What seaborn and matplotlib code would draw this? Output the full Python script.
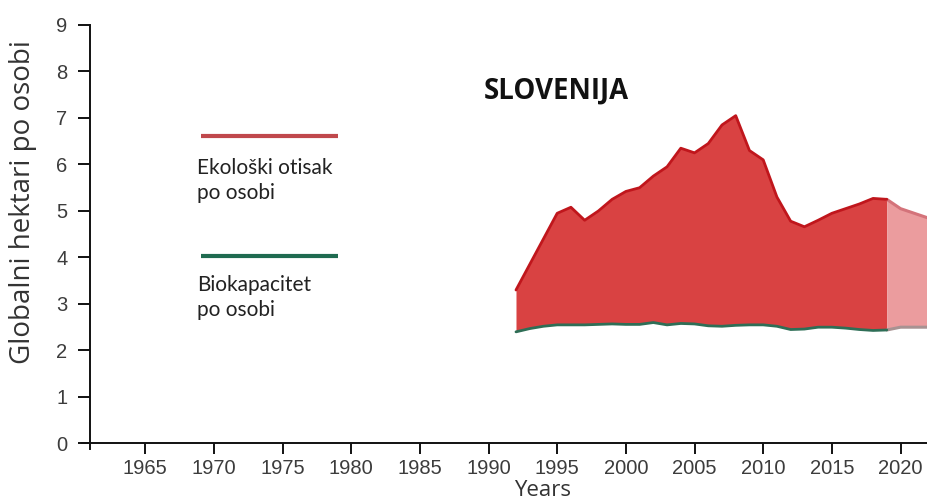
import matplotlib
matplotlib.use("Agg")
import matplotlib.pyplot as plt
import numpy as np
import pandas as pd
import seaborn as sns

# ---- data ----
years = list(range(1992, 2020))
footprint = [3.30, 3.85, 4.40, 4.95, 5.08, 4.80, 5.00, 5.25, 5.42, 5.50,
             5.75, 5.95, 6.35, 6.25, 6.45, 6.85, 7.05, 6.30, 6.10, 5.30,
             4.78, 4.66, 4.80, 4.95, 5.05, 5.15, 5.27, 5.25]
biocapacity = [2.40, 2.47, 2.52, 2.55, 2.55, 2.55, 2.56, 2.57, 2.56, 2.56,
               2.60, 2.55, 2.58, 2.57, 2.53, 2.52, 2.54, 2.55, 2.55, 2.52,
               2.45, 2.46, 2.50, 2.50, 2.48, 2.45, 2.43, 2.44]
proj_years = [2019, 2020, 2021, 2022]
proj_footprint = [5.25, 5.05, 4.95, 4.85]
proj_biocapacity = [2.44, 2.50, 2.50, 2.50]

x_ticks = [1965, 1970, 1975, 1980, 1985, 1990, 1995, 2000, 2005, 2010, 2015, 2020]
y_ticks = [0, 1, 2, 3, 4, 5, 6, 7, 8, 9]

title_text = "SLOVENIJA"
ylabel_text = "Globalni hektari po osobi"
xlabel_text = "Years"
legend_labels = ["Ekološki otisak\npo osobi", "Biokapacitet\npo osobi"]

df = pd.DataFrame({"year": years, "footprint": footprint, "biocapacity": biocapacity})
proj = pd.DataFrame({"year": proj_years, "footprint": proj_footprint,
                     "biocapacity": proj_biocapacity})

# ---- style ----
sns.set_style("white")
plt.rcParams['font.family'] = ['Liberation Sans', 'DejaVu Sans']

fig = plt.figure(figsize=(9.28, 5.01), dpi=100)
ax = fig.add_axes([82 / 928, 52 / 501, 846 / 928, 424 / 501])

RED_FILL = "#d94242"
RED_LINE = "#c0161c"
PINK_FILL = "#eb9c9e"
PINK_LINE = "#d4737a"
GREEN = "#2e6e56"

ax.fill_between(df["year"], df["biocapacity"], df["footprint"], color=RED_FILL, lw=0, zorder=1)
ax.fill_between(proj["year"], proj["biocapacity"], proj["footprint"], color=PINK_FILL, lw=0, zorder=1)

sns.lineplot(data=proj, x="year", y="footprint", color=PINK_LINE, lw=2.2, ax=ax, zorder=2)
sns.lineplot(data=proj, x="year", y="biocapacity", color="#a89292", lw=2.2, ax=ax, zorder=2)
sns.lineplot(data=df, x="year", y="footprint", color=RED_LINE, lw=2.0, ax=ax, zorder=3,
             solid_joinstyle="round")
sns.lineplot(data=df, x="year", y="biocapacity", color=GREEN, lw=2.0, ax=ax, zorder=3,
             solid_joinstyle="round")

ax.set_xlim(1960.4, 2022)
ax.set_ylim(-0.12, 9)
ax.set_xticks(x_ticks)
ax.set_yticks(y_ticks)
ax.set_xlabel("")
ax.set_ylabel("")

for s in ["top", "right"]:
    ax.spines[s].set_visible(False)
ax.spines["left"].set_position(("data", 1961))
ax.spines["bottom"].set_position(("data", 0))
for s in ["left", "bottom"]:
    ax.spines[s].set_color("#111111")
    ax.spines[s].set_linewidth(1.4)

ax.tick_params(axis="x", direction="out", length=8, width=1.4, color="#111111",
               labelsize=14.5, labelcolor="#3c3c3c", pad=3)
ax.tick_params(axis="y", direction="out", length=8.5, width=1.4, color="#111111",
               labelsize=14.5, labelcolor="#3c3c3c", pad=8)
ax.yaxis.set_ticks_position("left")
ax.xaxis.set_ticks_position("bottom")
ax.grid(False)

# legend (lines with text beneath)
ax.plot([1969.1, 1979.05], [6.62, 6.62], color="#c0484c", lw=3, solid_capstyle="butt")
ax.plot([1969.1, 1979.05], [4.03, 4.03], color="#1f6b50", lw=3, solid_capstyle="butt")
ax.text(1968.8, 6.13, legend_labels[0], family=["Lato", "DejaVu Sans"], fontsize=15,
        color="#222222", va="top", ha="left", linespacing=1.3)
ax.text(1968.8, 3.62, legend_labels[1], family=["Lato", "DejaVu Sans"], fontsize=15,
        color="#222222", va="top", ha="left", linespacing=1.3)

fig.text(556 / 928, 1 - 91 / 501, title_text, family=["Open Sans", "DejaVu Sans"],
         fontweight="bold", fontsize=19.8, color="#111111", ha="center", va="center")
fig.text(23 / 928, 1 - 202 / 501, ylabel_text, family=["Open Sans", "DejaVu Sans"],
         fontsize=20, color="#333333", rotation=90, ha="center", va="center")
fig.text(543 / 928, 1 - 491 / 501, xlabel_text, family=["Open Sans", "DejaVu Sans"],
         fontsize=16, color="#333333", ha="center", va="center")

fig.savefig("out.png", dpi=100)
